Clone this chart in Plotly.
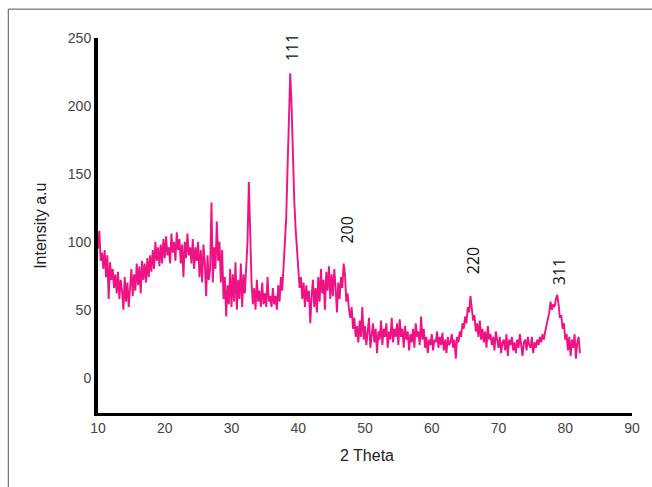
import numpy as np
import plotly.graph_objects as go

# 2-theta start / step of the digitised scan
theta_start = 10.0
theta_step = 0.2

# Intensity values, one row per degree (x.0, x.2, x.4, x.6, x.8)
intensity_rows = [
    [95, 108, 86, 92, 80],      # 10
    [94, 74, 90, 58, 85],       # 11
    [72, 80, 66, 76, 62],       # 12
    [78, 58, 72, 64, 50],       # 13
    [74, 56, 70, 52, 66],       # 14
    [80, 60, 76, 64, 84],       # 15
    [68, 82, 62, 86, 72],       # 16
    [84, 70, 88, 74, 90],       # 17
    [78, 94, 80, 100, 86],      # 18
    [96, 82, 98, 84, 102],      # 19
    [88, 104, 90, 96, 84],      # 20
    [106, 92, 100, 86, 107],    # 21
    [94, 102, 84, 98, 74],      # 22
    [100, 88, 106, 90, 96],     # 23
    [84, 102, 80, 96, 86],      # 24
    [100, 74, 94, 70, 98],      # 25
    [84, 60, 90, 72, 80],       # 26
    [129, 70, 96, 80, 115],     # 27
    [86, 100, 70, 94, 58],      # 28
    [74, 45, 68, 54, 80],       # 29
    [52, 76, 56, 85, 50],       # 30
    [72, 58, 84, 52, 76],       # 31
    [62, 88, 100, 144, 96],     # 32
    [70, 54, 66, 50, 72],       # 33
    [56, 64, 52, 70, 54],       # 34
    [62, 52, 74, 56, 60],       # 35
    [52, 66, 54, 60, 50],       # 36
    [68, 56, 74, 64, 82],       # 37
    [100, 118, 155, 192, 224],  # 38
    [200, 160, 131, 110, 94],   # 39
    [80, 66, 74, 58, 70],       # 40
    [52, 68, 56, 64, 40],       # 41
    [60, 72, 52, 66, 48],       # 42
    [74, 56, 80, 62, 72],       # 43
    [50, 78, 64, 82, 58],       # 44
    [76, 60, 80, 66, 48],       # 45
    [70, 58, 74, 66, 84],       # 46
    [76, 56, 62, 50, 44],       # 47
    [52, 36, 44, 30, 38],       # 48
    [26, 42, 30, 52, 28],       # 49
    [38, 24, 34, 44, 22],       # 50
    [32, 40, 26, 36, 18],       # 51
    [34, 28, 42, 24, 36],       # 52
    [30, 40, 22, 34, 28],       # 53
    [44, 26, 36, 30, 40],       # 54
    [24, 43, 30, 36, 22],       # 55
    [38, 28, 34, 20, 32],       # 56
    [26, 36, 22, 40, 30],       # 57
    [34, 24, 45, 28, 36],       # 58
    [22, 30, 18, 28, 24],       # 59
    [32, 20, 28, 26, 34],       # 60
    [22, 30, 24, 33, 20],       # 61
    [28, 18, 30, 24, 26],       # 62
    [32, 22, 28, 14, 30],       # 63
    [26, 34, 30, 40, 36],       # 64
    [45, 40, 52, 48, 60],       # 65
    [50, 42, 46, 34, 40],       # 66
    [30, 42, 28, 36, 26],       # 67
    [34, 22, 38, 28, 32],       # 68
    [24, 30, 20, 34, 26],       # 69
    [22, 30, 18, 26, 28],       # 70
    [20, 32, 16, 28, 24],       # 71
    [30, 20, 26, 18, 28],       # 72
    [22, 32, 24, 16, 26],       # 73
    [28, 20, 30, 24, 22],       # 74
    [30, 18, 26, 22, 28],       # 75
    [24, 30, 26, 32, 28],       # 76
    [34, 38, 44, 48, 56],       # 77
    [50, 54, 52, 58, 61],       # 78
    [54, 44, 46, 36, 40],       # 79
    [28, 32, 20, 30, 16],       # 80
    [28, 22, 32, 14, 26],       # 81
    [30, 18],                   # 82
]

intensity = [v for row in intensity_rows for v in row]
two_theta = [round(theta_start + i * theta_step, 2) for i in range(len(intensity))]

# Peak labels (Miller indices) and their positions
peak_labels = ["111", "200", "220", "311"]
peak_label_x = [39.0, 47.3, 66.1, 79.0]
peak_label_y = [243, 109, 86, 78]

x_ticks = [10, 20, 30, 40, 50, 60, 70, 80, 90]
y_ticks = [0, 50, 100, 150, 200, 250]

fig = go.Figure()
fig.add_trace(go.Scatter(
    x=two_theta, y=intensity, mode="lines",
    line=dict(color="#EE1283", width=1.9),
    showlegend=False, hoverinfo="skip",
))

for lab, lx, ly in zip(peak_labels, peak_label_x, peak_label_y):
    fig.add_annotation(
        x=lx, y=ly, text=lab, textangle=-90, showarrow=False,
        xanchor="center", yanchor="middle",
        font=dict(family="Open Sans, Liberation Sans, sans-serif", size=16, color="#111111"),
    )

# axis titles
fig.add_annotation(
    xref="paper", yref="paper", x=-0.108, y=0.5, text="Intensity a.u",
    textangle=-90, showarrow=False, xanchor="center", yanchor="middle",
    font=dict(family="Liberation Sans, Arial, sans-serif", size=16, color="#222222"),
)
fig.add_annotation(
    xref="paper", yref="paper", x=0.504, y=-0.112, text="2 Theta",
    showarrow=False, xanchor="center", yanchor="middle",
    font=dict(family="Liberation Sans, Arial, sans-serif", size=16, color="#222222"),
)

# outer frame of the original figure (runs off the right and bottom edges)
fig.add_shape(
    type="rect", xref="paper", yref="paper",
    x0=-0.168, x1=1.3, y0=-0.4, y1=1.077,
    line=dict(color="#555555", width=1), fillcolor="rgba(0,0,0,0)", layer="below",
)

fig.update_layout(
    width=652, height=487,
    margin=dict(l=98, r=18, t=38, b=74),
    paper_bgcolor="white", plot_bgcolor="white",
    font=dict(family="Liberation Sans, Arial, sans-serif", size=14, color="#444444"),
    xaxis=dict(
        range=[10, 90], tickvals=x_ticks, ticktext=[str(t) for t in x_ticks],
        showgrid=False, zeroline=False, showline=True, linecolor="black", linewidth=3,
        ticks="", tickfont=dict(size=14, color="#444444"),
    ),
    yaxis=dict(
        range=[-26, 250], tickvals=y_ticks, ticktext=[str(t) for t in y_ticks],
        showgrid=False, zeroline=False, showline=True, linecolor="black", linewidth=4,
        ticks="", tickfont=dict(size=14, color="#444444"),
    ),
)

fig.write_html(
    "out.html",
    config={"displayModeBar": False},
    post_script="document.body.style.margin='0';document.body.style.overflow='hidden';",
)
